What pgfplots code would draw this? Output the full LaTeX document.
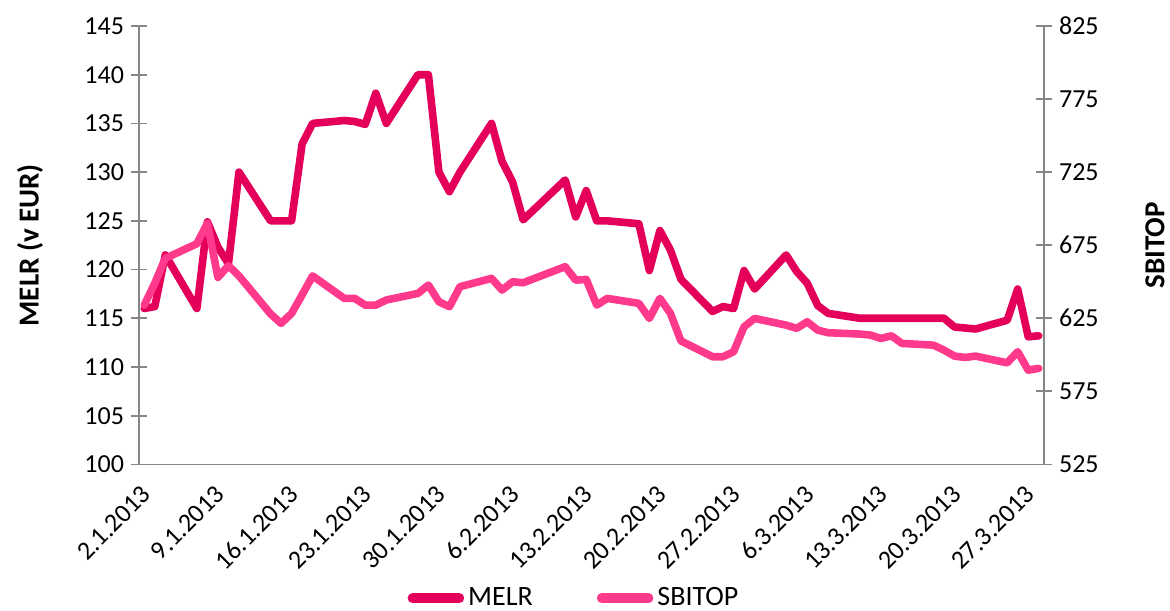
\documentclass[border=0pt]{standalone}
\usepackage{pgfplots}
\pgfplotsset{compat=1.18}
\usepackage{pgfplotstable}
\usepackage{fontspec}
\setmainfont{Carlito}
\definecolor{melr}{HTML}{E4005A}
\definecolor{sbitop}{HTML}{FF3A8C}
\definecolor{axgray}{HTML}{868686}

\pgfplotstableread{
d v
0 116.0
1 116.2
2 121.5
5 116.0
6 124.9
7 122.3
8 120.6
9 130.0
12 125.0
13 125.0
14 125.0
15 132.9
16 135.0
19 135.3
20 135.2
21 134.9
22 138.1
23 135.0
26 140.0
27 140.0
28 130.0
29 128.0
30 130.0
33 135.0
34 131.1
35 129.0
36 125.1
40 129.2
41 125.4
42 128.1
43 125.0
44 125.0
47 124.7
48 119.9
49 124.0
50 122.0
51 119.0
54 115.7
55 116.2
56 116.0
57 119.9
58 118.0
61 121.5
62 119.8
63 118.6
64 116.3
65 115.5
68 115.0
69 115.0
70 115.0
71 115.0
72 115.0
75 115.0
76 115.0
77 114.1
78 114.0
79 113.9
82 114.8
83 118.0
84 113.1
85 113.2
}\melrdata

\pgfplotstableread{
d v
0 634.0
1 649.0
2 666.0
5 676.0
6 690.0
7 653.0
8 661.0
9 654.0
12 628.0
13 621.5
14 628.3
15 641.0
16 654.0
19 638.6
20 638.6
21 634.0
22 634.0
23 637.5
26 642.0
27 647.7
28 636.3
29 632.9
30 646.6
33 652.3
34 644.3
35 650.0
36 649.3
40 660.3
41 651.1
42 651.6
43 634.0
44 638.6
47 635.2
48 624.9
49 638.6
50 628.4
51 609.5
54 598.7
55 598.7
56 602.1
57 619.2
58 624.9
61 620.3
62 618.1
63 622.6
64 616.9
65 615.1
68 614.2
69 613.5
70 611.2
71 613.0
72 607.8
75 606.6
76 603.2
77 599.1
78 598.2
79 599.1
82 594.5
83 602.1
84 589.5
85 590.7
}\sbitopdata

\begin{document}
\begin{tikzpicture}
\pgfplotsset{
  common/.style={
    scale only axis, width=452.5pt, height=219.2pt,
    xmin=-0.5, xmax=85.5,
    axis line style={axgray, line width=0.9pt},
    every tick/.style={axgray, line width=0.9pt},
    major tick length=8pt, tick align=center,
    tick label style={font=\fontsize{13}{15}\selectfont, /pgf/number format/assume math mode=true},
    label style={font=\fontsize{14.5}{17}\selectfont\bfseries},
    clip=false,
  }
}
\begin{axis}[common,
  axis y line*=left, axis x line*=bottom,
  ymin=100, ymax=145, ytick={100,105,...,145},
  xtick={0,7,...,84},
  xticklabels={2.1.2013,9.1.2013,16.1.2013,23.1.2013,30.1.2013,6.2.2013,13.2.2013,20.2.2013,27.2.2013,6.3.2013,13.3.2013,20.3.2013,27.3.2013},
  x tick style={draw=none},
  xticklabel style={rotate=45, anchor=east, xshift=-2.1pt, yshift=-7.1pt},
  ylabel={MELR (v EUR)},
  ylabel style={at={(axis description cs:-0.1204,0.5)}, anchor=center},
]
\addplot[melr, line width=3.8pt, line join=round, line cap=round] table[x=d,y=v]{\melrdata};
\end{axis}
\begin{axis}[common,
  axis y line*=right, axis x line=none,
  ymin=525, ymax=825, ytick={525,575,...,825},
  ylabel={SBITOP},
  ylabel style={at={(axis description cs:1.1227,0.5)}, anchor=center, rotate=0},
  legend style={at={(axis description cs:0.4818,0)}, anchor=center, yshift=-66.9pt,
    draw=none, fill=none, legend columns=2, font=\fontsize{14}{16}\selectfont,
    /tikz/every even column/.append style={column sep=30pt}, inner sep=0pt,
    cells={anchor=west}},
  legend image code/.code={\draw[#1, line width=5pt, line cap=round] (2.5pt,0pt) -- (25.8pt,0pt);},
]
\addlegendimage{melr, line width=3.8pt}
\addlegendentry{MELR}
\addplot[sbitop, line width=3.8pt, line join=round, line cap=round] table[x=d,y=v]{\sbitopdata};
\addlegendentry{SBITOP}
\end{axis}
\pgfresetboundingbox
\path (-69.5pt,-72.8pt) rectangle (515.5pt,232.2pt);
\end{tikzpicture}
\end{document}
